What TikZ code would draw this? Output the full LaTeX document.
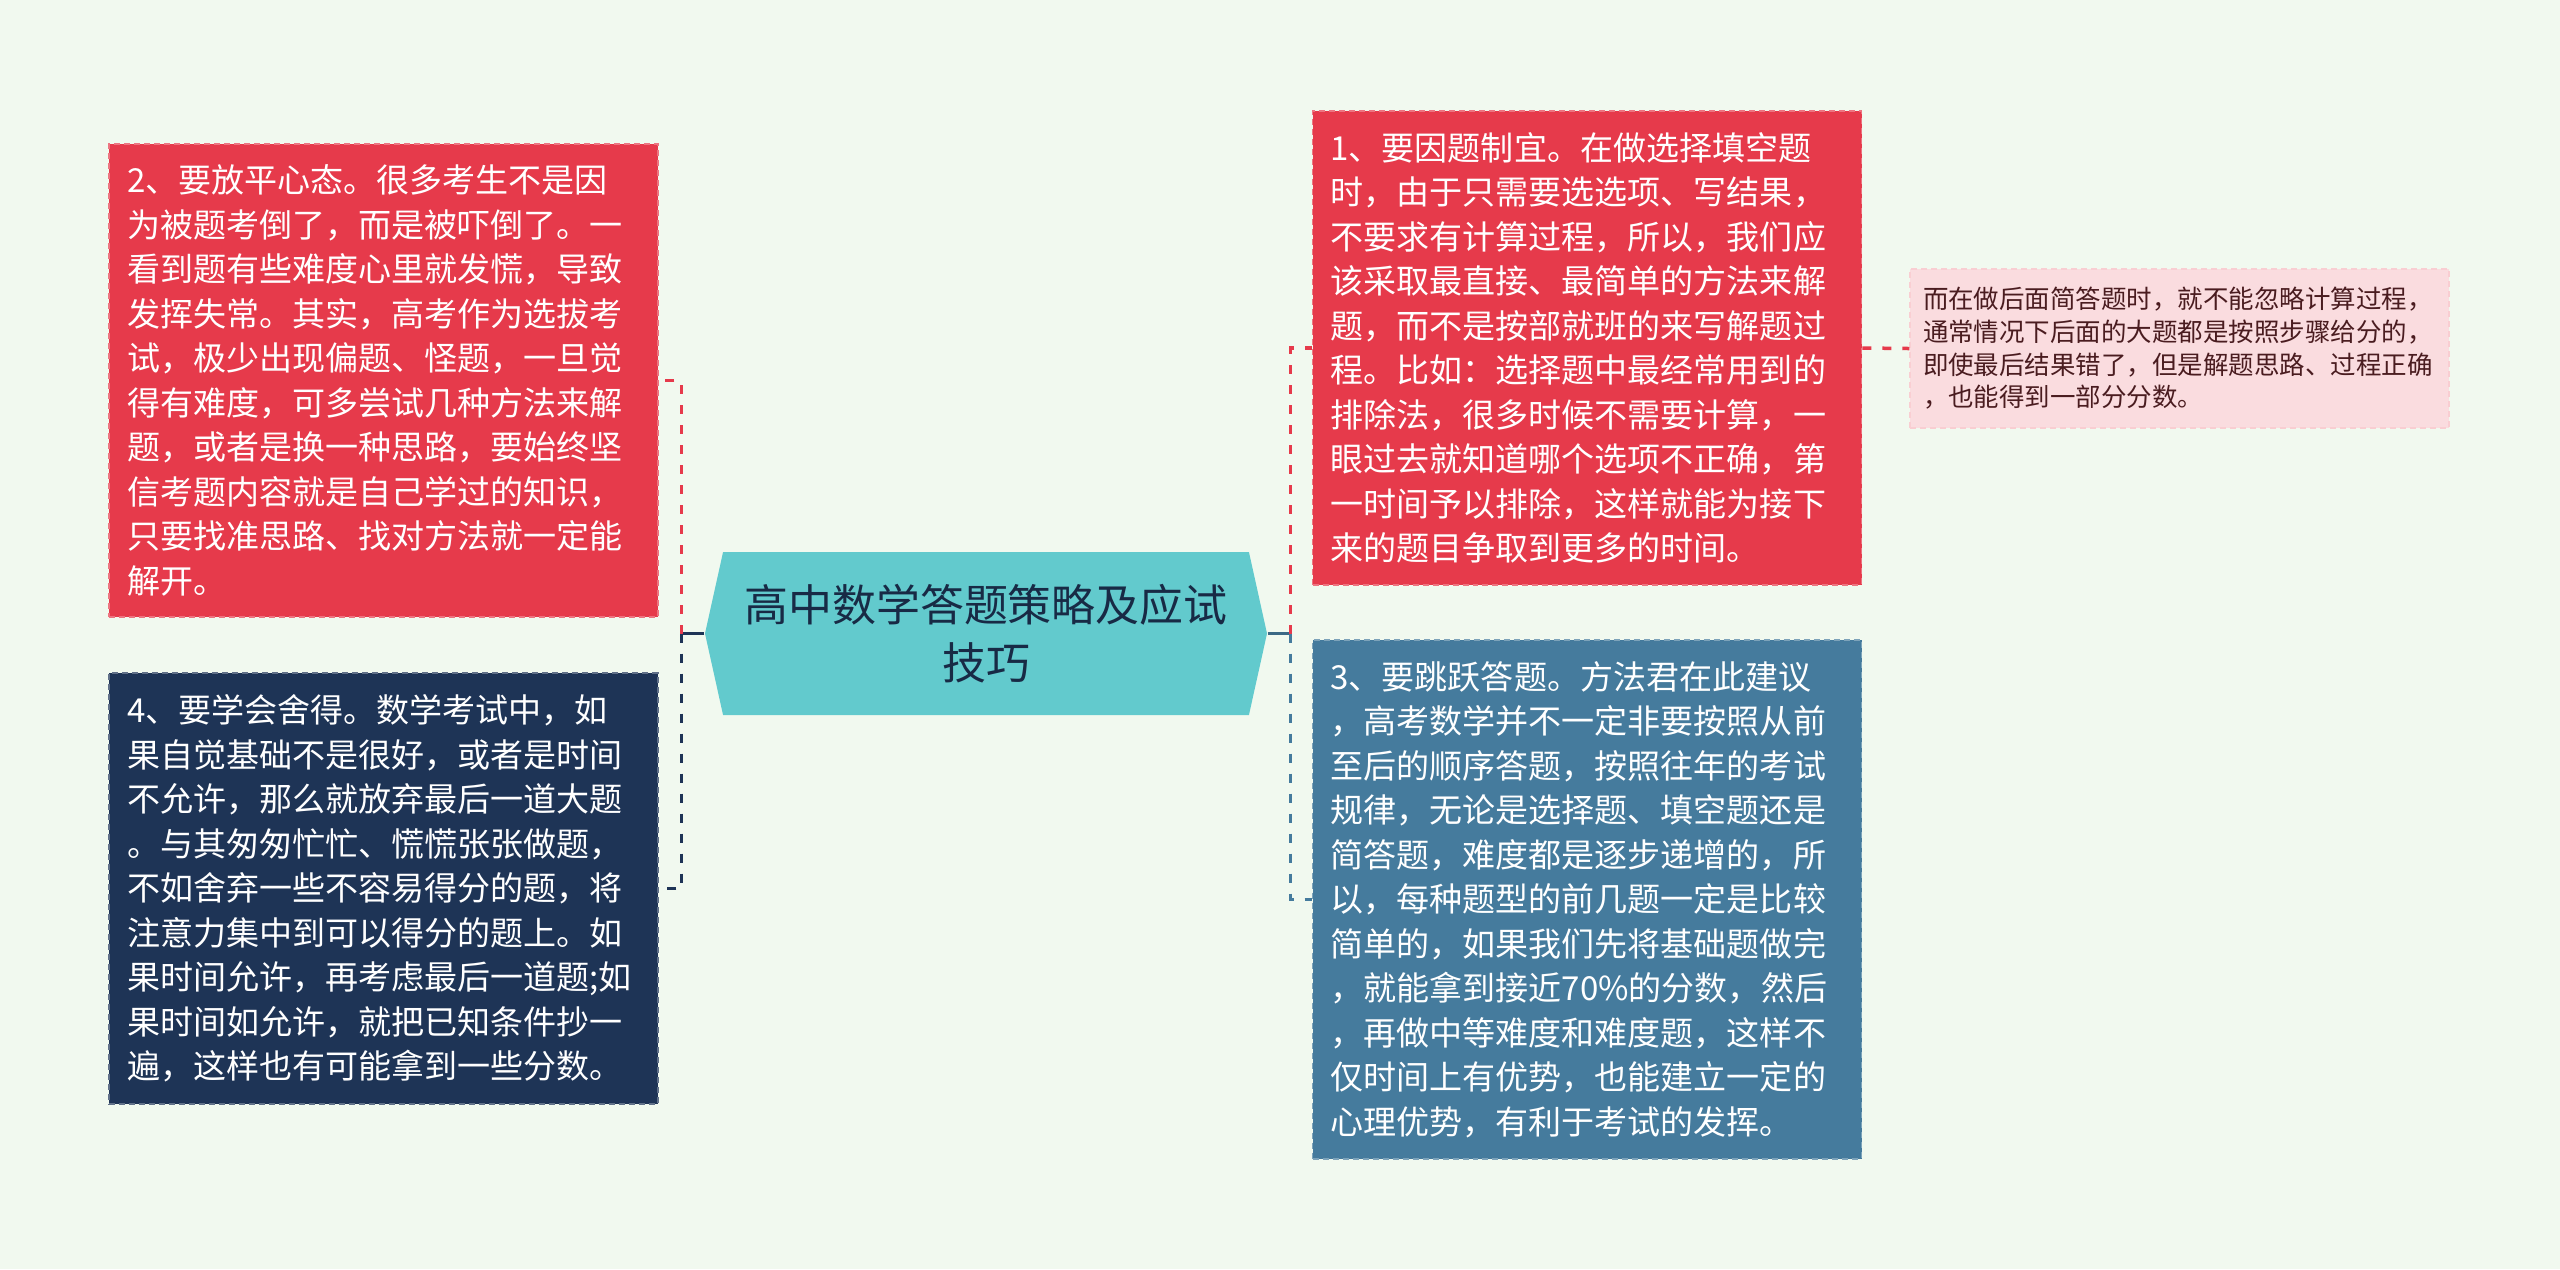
\documentclass[tikz,border=0pt]{standalone}
\usepackage{fontspec}
\setmainfont{Noto Sans CJK SC}
\usetikzlibrary{positioning, shapes.symbols}

\definecolor{bgcol}{HTML}{F1F9EF}
\definecolor{tipred}{HTML}{E63A4B}
\definecolor{tipnavy}{HTML}{1E3456}
\definecolor{tipblue}{HTML}{457B9D}
\definecolor{rootteal}{HTML}{62CACD}
\definecolor{notepink}{HTML}{FADCDF}
\definecolor{notetext}{HTML}{4A1C20}

\begin{document}
\begin{tikzpicture}[
    tipbox/.style={align=left, inner sep=0.18cm, text width=5.13cm, minimum width=5.49cm, text=white, font=\fontsize{9.4}{12.66}\selectfont, dash pattern=on 0.06cm off 0.04cm, line width=0.015cm},
    redbox/.style={tipbox, draw=tipred!70!white, fill=tipred},
    navybox/.style={tipbox, draw=tipnavy!70!white, fill=tipnavy},
    bluebox/.style={tipbox, draw=tipblue!70!white, fill=tipblue},
    notebox/.style={align=left, inner sep=0.13cm, text width=5.13cm, minimum width=5.39cm, minimum height=1.59cm, text=notetext, font=\fontsize{7.25}{9.3}\selectfont, draw=tipred!25!white, fill=notepink, dash pattern=on 0.06cm off 0.04cm, line width=0.015cm},
    rootbox/.style={signal, signal to=west and east, signal pointer angle=155, minimum width=5.62cm, minimum height=1.63cm, fill=rootteal, align=center, text=tipnavy!80!black, font=\fontsize{12.5}{16.7}\selectfont},
    link/.style={line width=0.035cm},
    dlink/.style={line width=0.035cm, dash pattern=on 0.09cm off 0.11cm}]
    % Background
    \fill[bgcol] (0,0) rectangle (25.6,-12.69);
    \useasboundingbox (0,0) rectangle (25.6,-12.69);
    % Root
    \node[rootbox] (root) at (9.86,-6.335) {高中数学答题策略及应试\\技巧};
    % Tips left
    \node[redbox, minimum height=4.73cm] (tip2) at (3.835,-3.805) {2、要放平心态。很多考生不是因\\为被题考倒了，而是被吓倒了。一\\看到题有些难度心里就发慌，导致\\发挥失常。其实，高考作为选拔考\\试，极少出现偏题、怪题，一旦觉\\得有难度，可多尝试几种方法来解\\题，或者是换一种思路，要始终坚\\信考题内容就是自己学过的知识，\\只要找准思路、找对方法就一定能\\解开。};
    \node[navybox, minimum height=4.31cm] (tip4) at (3.835,-8.885) {4、要学会舍得。数学考试中，如\\果自觉基础不是很好，或者是时间\\不允许，那么就放弃最后一道大题\\。与其匆匆忙忙、慌慌张张做题，\\不如舍弃一些不容易得分的题，将\\注意力集中到可以得分的题上。如\\果时间允许，再考虑最后一道题;如\\果时间如允许，就把已知条件抄一\\遍，这样也有可能拿到一些分数。};
    % Tips right
    \node[redbox, minimum height=4.74cm] (tip1) at (15.87,-3.48) {1、要因题制宜。在做选择填空题\\时，由于只需要选选项、写结果，\\不要求有计算过程，所以，我们应\\该采取最直接、最简单的方法来解\\题，而不是按部就班的来写解题过\\程。比如：选择题中最经常用到的\\排除法，很多时候不需要计算，一\\眼过去就知道哪个选项不正确，第\\一时间予以排除，这样就能为接下\\来的题目争取到更多的时间。};
    \node[bluebox, minimum height=5.19cm] (tip3) at (15.87,-8.995) {3、要跳跃答题。方法君在此建议\\，高考数学并不一定非要按照从前\\至后的顺序答题，按照往年的考试\\规律，无论是选择题、填空题还是\\简答题，难度都是逐步递增的，所\\以，每种题型的前几题一定是比较\\简单的，如果我们先将基础题做完\\，就能拿到接近70\%的分数，然后\\，再做中等难度和难度题，这样不\\仅时间上有优势，也能建立一定的\\心理优势，有利于考试的发挥。};
    % Note
    \node[notebox] (note1) at (21.795,-3.485) {而在做后面简答题时，就不能忽略计算过程，\\通常情况下后面的大题都是按照步骤给分的，\\即使最后结果错了，但是解题思路、过程正确\\，也能得到一部分分数。};
    % Joins
    \coordinate[left=0.23cm of root.west] (joinL);
    \coordinate[right=0.23cm of root.east] (joinR);
    % Links left
    \draw[link, tipnavy] (root.west) -- (joinL);
    \draw[dlink, tipred] (joinL) |- (tip2.east);
    \draw[dlink, tipnavy] (joinL) |- (tip4.east);
    % Links right
    \draw[link, tipblue!85!black] (root.east) -- (joinR);
    \draw[dlink, tipred] (joinR) |- (tip1.west);
    \draw[dlink, tipblue] (joinR) |- (tip3.west);
    % Link note
    \draw[dlink, tipred] (tip1.east) -- (note1.west);
\end{tikzpicture}
\end{document}
